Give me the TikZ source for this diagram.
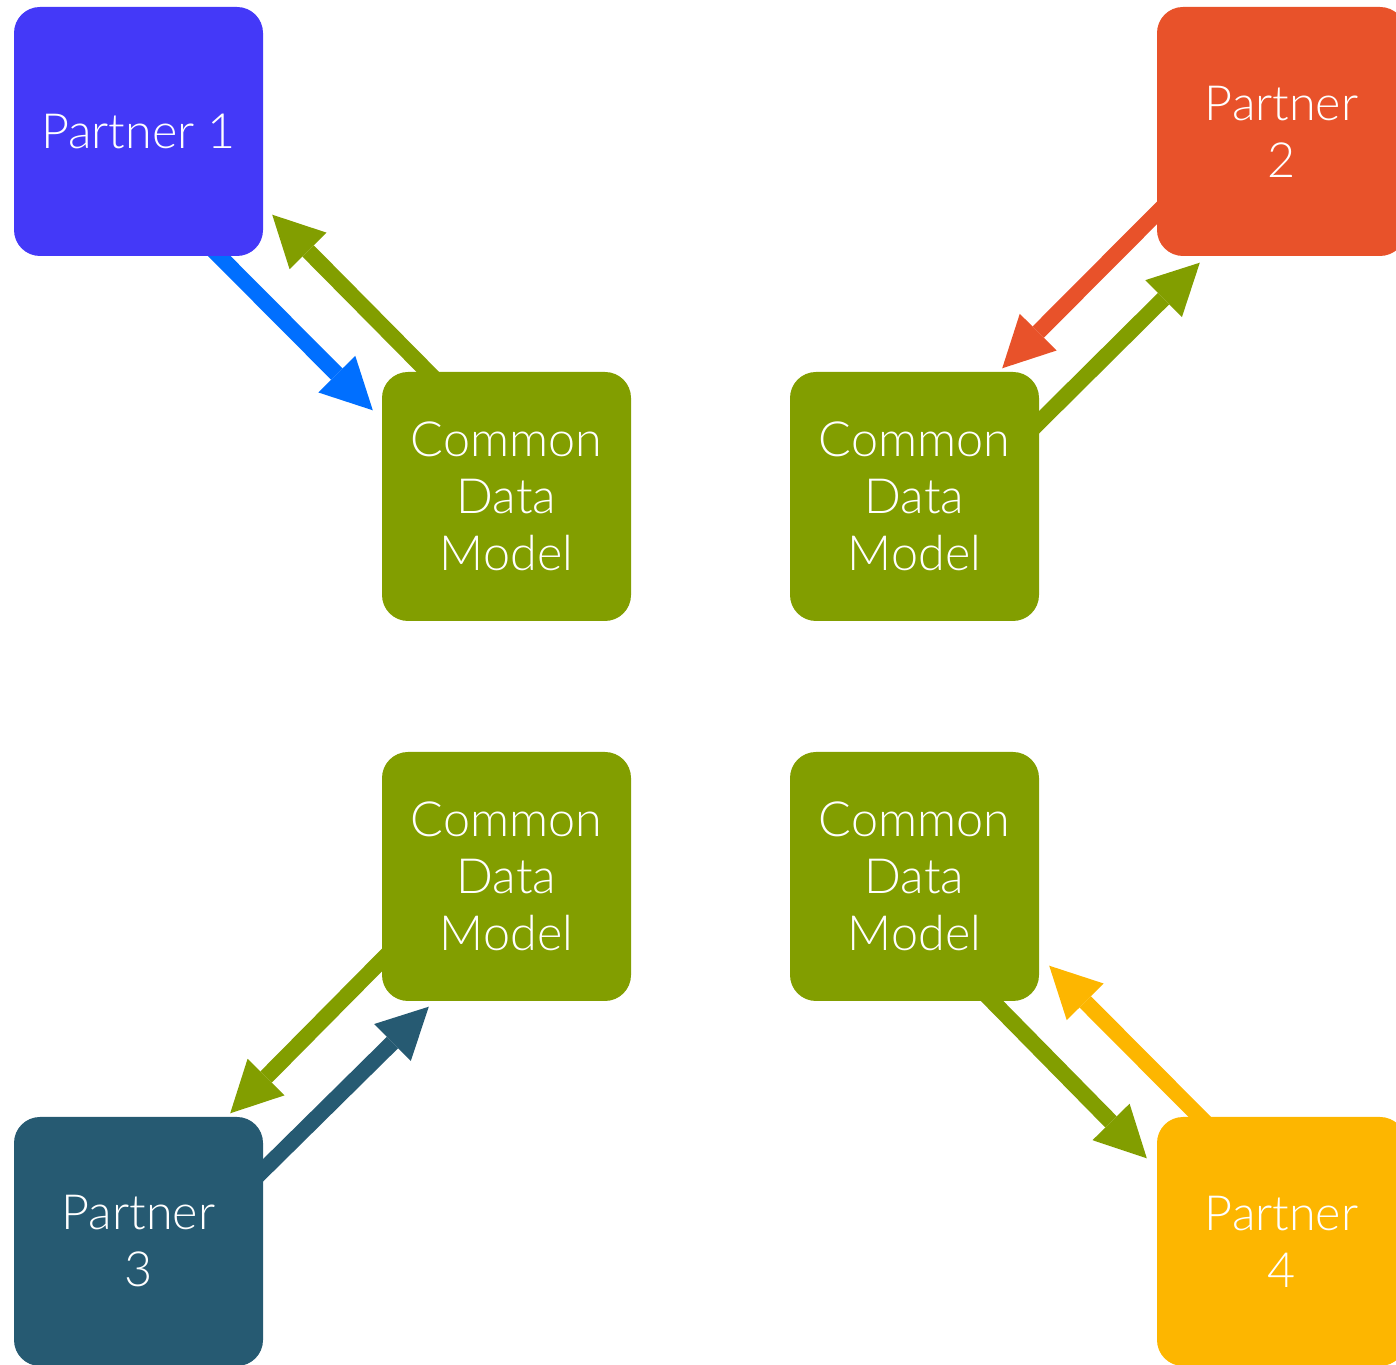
\documentclass[tikz,border=0pt]{standalone}
\usepackage{fontspec}
\setmainfont{Lato Light}
\usetikzlibrary{arrows.meta,calc}
\pgfdeclarelayer{background}
\pgfsetlayers{background,main}
\definecolor{pone}{HTML}{4439F8}
\definecolor{ptwo}{HTML}{E8522A}
\definecolor{pthree}{HTML}{265A72}
\definecolor{pfour}{HTML}{FDB600}
\definecolor{cdm}{HTML}{829E00}
\definecolor{bluearr}{HTML}{006FFF}
\tikzset{
  box/.style={rectangle, rounded corners=26pt, minimum width=249pt, minimum height=249pt,
    inner sep=0pt, text=white, align=center, font=\fontsize{48.5}{57}\selectfont},
  conn/.style={line width=16pt, -{Triangle[length=51pt,width=52pt,line width=0pt]}}
}
\begin{document}
\begin{tikzpicture}[x=1pt,y=1pt]
\path[use as bounding box, clip] (0,0) rectangle (1396,1364);
\node[box, fill=pone] (p1) at (138.5,1232.5) {Partner 1};
\node[box, fill=ptwo] (p2) at (1281.5,1232.5) {Partner\\2};
\node[box, fill=pthree] (p3) at (138.5,122.5) {Partner\\3};
\node[box, fill=pfour] (p4) at (1281.5,122.5) {Partner\\4};
\node[box, fill=cdm] (c1) at (506.5,867.5) {Common\\Data\\Model};
\node[box, fill=cdm] (c2) at (914.5,867.5) {Common\\Data\\Model};
\node[box, fill=cdm] (c3) at (506.5,487.5) {Common\\Data\\Model};
\node[box, fill=cdm] (c4) at (914.5,487.5) {Common\\Data\\Model};
\begin{pgfonlayer}{background}
\draw[conn, bluearr] ($(p1.south)+(66.5,14.5)$) -- ($(c1.north west)+(-9,-38.5)$);
\draw[conn, cdm] ($(c1.north)+(-64.5,-14.5)$) -- ($(p1.south east)+(9,41.5)$);
\draw[conn, ptwo] ($(p2.west)+(14,-67.5)$) -- ($(c2.north east)+(-37,3.5)$);
\draw[conn, cdm] ($(c2.east)+(-14,60.5)$) -- ($(p2.south west)+(43,-6.5)$);
\draw[conn, cdm] ($(c3.west)+(14,-69.5)$) -- ($(p3.north east)+(-33,3.5)$);
\draw[conn, pthree] ($(p3.east)+(-14,57.5)$) -- ($(c3.south west)+(47,-5.5)$);
\draw[conn, cdm] ($(c4.south)+(63.5,14.5)$) -- ($(p4.north west)+(-10,-41.5)$);
\draw[conn, pfour] ($(p4.north)+(-67.5,-14.5)$) -- ($(c4.south east)+(10,35.5)$);
\end{pgfonlayer}
\end{tikzpicture}
\end{document}
